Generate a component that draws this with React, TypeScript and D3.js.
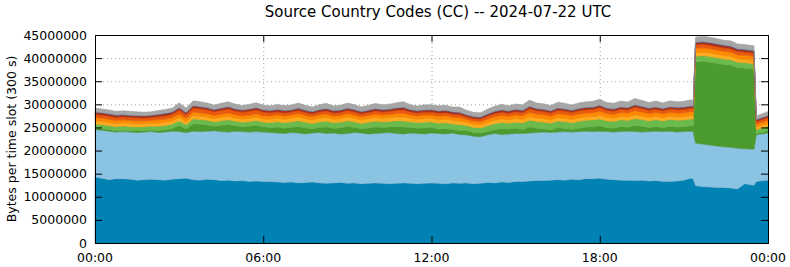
import React from "react";
import * as d3 from "d3";

// Sample times in minutes after 00:00 (15-minute samples, plus the 5-minute slots around the burst)
const sampleMinutes = [
  ...d3.range(0, 1280, 15),
  1280, 1285, 1300, 1315, 1330, 1345, 1360, 1375, 1390, 1410, 1415, 1440,
];

// values in millions of bytes per time slot
const darkBlue = [
  14.3, 14.0, 13.7, 13.9, 13.9, 13.8, 13.6, 13.7, 13.8, 13.7, 13.6, 13.8,
  13.9, 14.0, 13.7, 13.6, 13.8, 13.7, 13.5, 13.6, 13.4, 13.5, 13.3, 13.4, 13.3,
  13.3, 13.2, 13.1, 13.2, 13.0, 13.1, 13.2, 13.0, 12.9, 13.0, 13.1, 12.9, 13.0, 12.8, 12.9, 13.0, 12.9, 12.8, 12.9, 13.0, 12.9, 12.8, 12.9, 13.0,
  12.9, 12.8, 13.0, 12.9, 13.0, 12.8, 12.9, 13.1, 13.0, 13.2, 13.1, 13.3,
  13.3, 13.4, 13.5, 13.5, 13.6, 13.7, 13.6, 13.8, 13.7, 13.9, 13.9, 14.0, 13.8, 13.7, 13.6, 13.6, 13.5, 13.6, 13.4, 13.5, 13.3, 13.3, 13.4, 13.6, 14.0,
  13.9,
  12.4, 12.2, 12.1, 12.0, 12.0, 11.9, 11.7, 12.8, 12.5,
  13.3, 13.6,
];

const lightBlue = [
  10.2, 10.4, 10.5, 10.1, 10.2, 10.2, 10.3, 10.3, 10.3, 10.2, 10.4, 10.4,
  10.2, 9.9, 10.5, 10.5, 10.4, 10.6, 10.6, 10.4, 10.8, 10.6, 10.7, 10.7, 10.7,
  10.6, 10.6, 10.6, 10.7, 10.8, 10.5, 10.6, 10.9, 10.8, 10.8, 10.5, 10.8, 10.9, 11.0, 10.7, 10.7, 10.9, 11.1, 10.8, 10.6, 10.9, 10.9, 10.7, 10.8,
  10.8, 10.8, 10.8, 10.6, 10.4, 10.3, 10.1, 10.3, 10.7, 10.3, 10.5, 10.4,
  10.4, 10.4, 10.4, 10.5, 10.3, 10.3, 10.5, 10.2, 10.4, 10.3, 10.2, 10.2, 10.3, 10.3, 10.5, 10.6, 10.6, 10.4, 10.7, 10.7, 10.8, 10.9, 10.6, 10.5, 10.2,
  10.3,
  9.2, 9.2, 9.1, 9.0, 8.8, 8.8, 8.8, 7.6, 7.8,
  10.1, 10.2,
];

const darkGreen = [
  0.3, 0.3, 0.35, 0.3, 0.3, 0.3, 0.35, 0.35, 0.3, 0.45, 0.5, 0.55,
  1.3, 0.75, 1.6, 1.6, 1.35, 0.95, 1.35, 1.6, 1.15, 1.05, 1.25, 1.35, 1.15,
  1.0, 1.3, 1.1, 1.1, 1.4, 1.3, 0.9, 1.1, 1.4, 1.0, 1.3, 1.5, 1.1, 0.9, 1.3, 1.4, 1.2, 1.2, 1.5, 1.5, 1.2, 1.1, 1.3, 1.2,
  0.9, 1.1, 0.7, 0.8, 0.9, 0.8, 0.8, 0.7, 0.8, 1.2, 1.0, 1.1,
  0.85, 1.3, 0.95, 0.65, 0.55, 0.95, 0.65, 0.55, 0.75, 0.85, 1.05, 1.15, 0.85, 0.85, 1.05, 0.85, 1.3, 1.25, 0.85, 0.95, 0.85, 1.05, 1.05, 1.05, 1.15,
  1.1,
  17.6, 17.9, 17.9, 17.9, 17.8, 17.8, 17.4, 17.4, 17.3,
  0.2, 0.5,
];

const lightGreen = [
  0.9, 0.9, 0.85, 0.85, 0.9, 0.85, 0.85, 0.8, 0.85, 0.9, 0.9, 0.95,
  1.0, 0.95, 1.05, 1.0, 1.0, 0.95, 1.0, 1.05, 1.0, 0.95, 1.0, 1.05, 1.0,
  1.1, 1.15, 1.2, 1.2, 1.25, 1.2, 1.15, 1.2, 1.25, 1.2, 1.2, 1.25, 1.2, 1.15, 1.2, 1.25, 1.2, 1.2, 1.25, 1.3, 1.2, 1.2, 1.25, 1.2,
  1.3, 1.3, 1.25, 1.3, 1.1, 1.1, 1.1, 1.25, 1.3, 1.35, 1.3, 1.35,
  1.4, 1.45, 1.45, 1.5, 1.45, 1.45, 1.5, 1.45, 1.45, 1.5, 1.45, 1.5, 1.45, 1.45, 1.5, 1.45, 1.5, 1.45, 1.45, 1.5, 1.45, 1.45, 1.5, 1.45, 1.45,
  1.45,
  1.2, 1.2, 1.25, 1.2, 1.2, 1.15, 1.2, 1.2, 1.15,
  0.9, 0.95,
];

const amber = [
  0.7, 0.7, 0.7, 0.65, 0.7, 0.7, 0.65, 0.65, 0.65, 0.7, 0.7, 0.7,
  0.75, 0.7, 0.75, 0.75, 0.7, 0.7, 0.72, 0.75, 0.7, 0.7, 0.72, 0.75, 0.7,
  0.78, 0.8, 0.8, 0.78, 0.82, 0.8, 0.78, 0.8, 0.82, 0.8, 0.8, 0.82, 0.8, 0.78, 0.8, 0.82, 0.8, 0.8, 0.82, 0.85, 0.8, 0.78, 0.8, 0.8,
  0.78, 0.8, 0.78, 0.78, 0.7, 0.7, 0.7, 0.75, 0.78, 0.8, 0.78, 0.8,
  0.75, 0.8, 0.75, 0.75, 0.72, 0.75, 0.75, 0.72, 0.75, 0.75, 0.75, 0.8, 0.75, 0.72, 0.75, 0.75, 0.8, 0.78, 0.75, 0.75, 0.72, 0.75, 0.75, 0.75, 0.78,
  0.75,
  0.8, 0.8, 0.8, 0.78, 0.8, 0.78, 0.75, 0.75, 0.75,
  0.6, 0.65,
];

const orange = [
  0.7, 0.7, 0.65, 0.7, 0.65, 0.7, 0.7, 0.65, 0.65, 0.7, 0.7, 0.7,
  0.75, 0.7, 0.75, 0.72, 0.72, 0.7, 0.72, 0.75, 0.7, 0.72, 0.72, 0.72, 0.7,
  0.7, 0.72, 0.7, 0.7, 0.72, 0.7, 0.68, 0.7, 0.72, 0.7, 0.7, 0.72, 0.7, 0.68, 0.7, 0.72, 0.7, 0.72, 0.75, 0.8, 0.7, 0.7, 0.72, 0.7,
  0.75, 0.75, 0.72, 0.75, 0.65, 0.65, 0.65, 0.72, 0.75, 0.78, 0.75, 0.78,
  0.82, 0.95, 0.85, 0.85, 0.82, 0.85, 0.85, 0.82, 0.85, 0.85, 0.85, 0.9, 0.85, 0.82, 0.85, 0.85, 0.95, 0.88, 0.85, 0.85, 0.82, 0.85, 0.85, 0.85, 0.88,
  0.85,
  0.9, 0.92, 0.9, 0.9, 0.88, 0.88, 0.85, 0.85, 0.85,
  0.6, 0.65,
];

const redOrange = [
  0.7, 0.65, 0.7, 0.65, 0.65, 0.6, 0.65, 0.6, 0.6, 0.65, 0.7, 0.7,
  0.85, 0.75, 0.85, 0.85, 0.82, 0.8, 0.82, 0.85, 0.8, 0.8, 0.82, 0.82, 0.8,
  0.68, 0.65, 0.65, 0.65, 0.68, 0.65, 0.62, 0.65, 0.68, 0.65, 0.65, 0.68, 0.65, 0.62, 0.65, 0.68, 0.65, 0.65, 0.7, 0.75, 0.65, 0.65, 0.65, 0.65,
  0.65, 0.65, 0.62, 0.65, 0.55, 0.55, 0.55, 0.62, 0.65, 0.68, 0.65, 0.68,
  0.7, 0.75, 0.7, 0.7, 0.68, 0.7, 0.7, 0.68, 0.7, 0.7, 0.7, 0.75, 0.7, 0.68, 0.7, 0.7, 0.75, 0.72, 0.7, 0.7, 0.68, 0.7, 0.7, 0.7, 0.72,
  0.7,
  0.75, 0.78, 0.75, 0.75, 0.75, 0.72, 0.72, 0.7, 0.7,
  0.55, 0.6,
];

const darkRed = [
  0.45, 0.45, 0.4, 0.45, 0.4, 0.4, 0.4, 0.4, 0.4, 0.45, 0.45, 0.45,
  0.42, 0.38, 0.42, 0.4, 0.4, 0.4, 0.4, 0.42, 0.4, 0.38, 0.4, 0.4, 0.4,
  0.4, 0.4, 0.42, 0.4, 0.4, 0.38, 0.4, 0.4, 0.42, 0.4, 0.4, 0.4, 0.42, 0.4, 0.38, 0.4, 0.4, 0.4, 0.42, 0.45, 0.4, 0.4, 0.4, 0.4,
  0.4, 0.4, 0.4, 0.4, 0.35, 0.35, 0.35, 0.38, 0.4, 0.42, 0.4, 0.4,
  0.4, 0.42, 0.4, 0.4, 0.4, 0.4, 0.4, 0.38, 0.4, 0.4, 0.4, 0.42, 0.4, 0.4, 0.4, 0.4, 0.42, 0.4, 0.4, 0.4, 0.38, 0.4, 0.4, 0.4, 0.4,
  0.4,
  0.45, 0.45, 0.45, 0.45, 0.45, 0.45, 0.45, 0.45, 0.45,
  0.35, 0.35,
];

const slate = [
  0.1, 0.1, 0.1, 0.1, 0.1, 0.1, 0.1, 0.1, 0.1, 0.1, 0.1, 0.1,
  0.1, 0.1, 0.1, 0.1, 0.1, 0.1, 0.1, 0.1, 0.1, 0.1, 0.1, 0.1, 0.1,
  0.12, 0.12, 0.12, 0.12, 0.12, 0.12, 0.12, 0.12, 0.12, 0.12, 0.12, 0.12, 0.12, 0.12, 0.12, 0.12, 0.12, 0.12, 0.12, 0.12, 0.12, 0.12, 0.12, 0.12,
  0.12, 0.12, 0.12, 0.12, 0.12, 0.12, 0.12, 0.12, 0.12, 0.12, 0.12, 0.12,
  0.1, 0.1, 0.1, 0.1, 0.1, 0.1, 0.1, 0.1, 0.1, 0.1, 0.1, 0.1, 0.1, 0.1, 0.1, 0.1, 0.1, 0.1, 0.1, 0.1, 0.1, 0.1, 0.1, 0.1, 0.1,
  0.1,
  0.15, 0.15, 0.15, 0.15, 0.15, 0.15, 0.15, 0.15, 0.15,
  0.1, 0.1,
];

const gray = [
  0.85, 0.8, 0.85, 0.8, 0.8, 0.85, 0.8, 0.75, 0.75, 0.8, 0.85, 0.8,
  1.05, 0.95, 1.05, 1.05, 1.0, 0.95, 1.0, 1.05, 1.0, 0.95, 1.0, 1.05, 1.0,
  1.0, 1.05, 1.05, 1.0, 1.1, 1.05, 1.0, 1.05, 1.1, 1.0, 1.05, 1.1, 1.05, 1.0, 1.05, 1.1, 1.05, 1.05, 1.1, 1.2, 1.05, 1.0, 1.05, 1.05,
  1.1, 1.1, 1.05, 1.1, 0.95, 0.9, 0.9, 1.05, 1.1, 1.15, 1.1, 1.15,
  1.2, 1.35, 1.2, 1.15, 1.15, 1.25, 1.2, 1.15, 1.2, 1.2, 1.25, 1.3, 1.2, 1.2, 1.25, 1.2, 1.35, 1.3, 1.2, 1.25, 1.2, 1.25, 1.2, 1.25, 1.3,
  1.25,
  1.1, 1.15, 1.1, 1.1, 1.05, 1.1, 1.05, 1.05, 1.0,
  0.8, 0.85,
];

const seriesList = [darkBlue, lightBlue, darkGreen, lightGreen, amber, orange, redOrange, darkRed, slate, gray];
const seriesKeys = ["s0", "s1", "s2", "s3", "s4", "s5", "s6", "s7", "s8", "s9"];
const seriesColors = [
  "#0082b4", "#8bc3e3", "#4c9b2f", "#6bba4c", "#ffab1e",
  "#ff8a00", "#ea5a0c", "#b5300f", "#42589c", "#a6a6a6",
];

const yTicks = [0, 5000000, 10000000, 15000000, 20000000, 25000000, 30000000, 35000000, 40000000, 45000000];
const xTickMinutes = [0, 360, 720, 1080, 1440];
const xTickLabels = ["00:00", "06:00", "12:00", "18:00", "00:00"];

const TITLE = "Source Country Codes (CC) -- 2024-07-22 UTC";
const Y_LABEL = "Bytes per time slot (300 s)";

export default function App() {
  const W = 790, H = 267;
  const L = 95, R = 768, T = 35, B = 243;
  const x = d3.scaleLinear().domain([0, 1440]).range([L, R]);
  const y = d3.scaleLinear().domain([0, 45000000]).range([B, T]);

  const rows = sampleMinutes.map((t, i) => {
    const row: any = { t };
    seriesList.forEach((s, k) => { row[seriesKeys[k]] = s[i] * 1e6; });
    return row;
  });
  const stacked = d3.stack<any>().keys(seriesKeys)(rows);
  const area = d3.area<any>()
    .x((d: any) => x(d.data.t))
    .y0((d: any) => y(d[0]))
    .y1((d: any) => y(d[1]));

  const font = "DejaVu Sans, sans-serif";
  return (
    <svg width={W} height={H} style={{ position: "fixed", left: 0, top: 0, background: "#fff" }} fontFamily={font}>
      <rect x={0} y={0} width={W} height={H} fill="#fff" />
      <text x={438} y={17} textAnchor="middle" fontSize={15} fill="#000">{TITLE}</text>
      {/* grid */}
      {yTicks.slice(1, -1).map((v) => (
        <line key={"gy" + v} x1={L} x2={R} y1={y(v) + 0.5} y2={y(v) + 0.5} stroke="#a0a0a0" strokeWidth={1} strokeDasharray="1,3" />
      ))}
      {xTickMinutes.slice(1, -1).map((m) => (
        <line key={"gx" + m} x1={x(m) + 0.5} x2={x(m) + 0.5} y1={T} y2={B} stroke="#a0a0a0" strokeWidth={1} strokeDasharray="1,3" />
      ))}
      {stacked.map((layer, k) => (
        <path key={layer.key} d={area(layer as any) || ""} fill={seriesColors[k]}
          stroke={d3.color(seriesColors[k])!.darker(0.25).toString()} strokeWidth={0.5} />
      ))}
      {/* ticks */}
      {yTicks.map((v) => (
        <g key={"ty" + v}>
          <line x1={L} x2={L + 7} y1={y(v) + 0.5} y2={y(v) + 0.5} stroke="#000" />
          <line x1={R - 7} x2={R} y1={y(v) + 0.5} y2={y(v) + 0.5} stroke="#000" />
          <text x={87} y={y(v) + 4.5} textAnchor="end" fontSize={12.5} fill="#000">{String(v)}</text>
        </g>
      ))}
      {xTickMinutes.map((m, i) => (
        <g key={"tx" + m}>
          <line x1={x(m) + 0.5} x2={x(m) + 0.5} y1={B} y2={B - 7} stroke="#000" />
          <line x1={x(m) + 0.5} x2={x(m) + 0.5} y1={T} y2={T + 7} stroke="#000" />
          <text x={x(m)} y={262} textAnchor="middle" fontSize={12.5} fill="#000">{xTickLabels[i]}</text>
        </g>
      ))}
      <rect x={L + 0.5} y={T + 0.5} width={R - L} height={B - T} fill="none" stroke="#000" strokeWidth={1} />
      <text transform={`translate(16,${(T + B) / 2}) rotate(-90)`} textAnchor="middle" fontSize={12.5} fill="#000">{Y_LABEL}</text>
    </svg>
  );
}
